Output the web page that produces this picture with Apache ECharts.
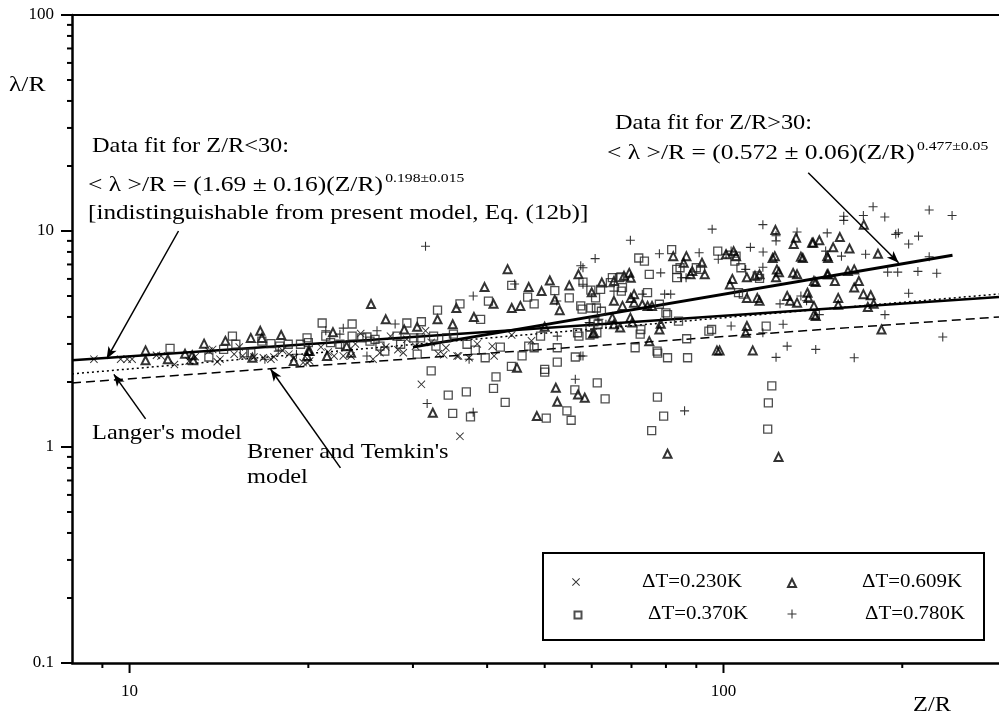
<!DOCTYPE html>
<html><head><meta charset="utf-8">
<script src="https://cdn.jsdelivr.net/npm/echarts@6/dist/echarts.min.js"></script>
<style>html,body{margin:0;padding:0;background:#fff}#c{width:999px;height:715px}</style>
</head><body><div id="c"></div>
<script>
// ---------- data (Z/R, lambda/R) ----------
const xMin = 8, xMax = 291, yMin = 0.1, yMax = 100;
const xMajorTicks = [10, 100];
const xMinorTicks = [9, 20, 30, 40, 50, 60, 70, 80, 90, 200];
const yMajorTicks = [0.1, 1, 10, 100];
const yMinorTicks = [0.2,0.3,0.4,0.5,0.6,0.7,0.8,0.9,2,3,4,5,6,7,8,9,20,30,40,50,60,70,80,90];

const crossData = [
 [8.71,2.55],[9.66,2.55],[9.91,2.55],[10.1,2.55],[11.1,2.66],[11.3,2.64],[11.9,2.41],[12.6,2.5],[13.6,2.78],[13.8,2.83],
 [14.05,2.48],[14.2,2.55],[15.0,2.69],[15.5,2.64],[16.2,2.61],[16.8,2.59],[17.3,2.55],[17.5,2.61],[18.55,2.69],[18.9,2.59],
 [19.9,2.46],[19.6,2.46],[20.1,2.5],[21,2.9],[22.1,2.64],[22.9,2.64],[23.6,2.64],[24,3.0],[24.5,3.35],[26.4,2.73],[25.7,2.55],
 [27,2.9],[27.5,3.26],[29.3,3.15],[30.3,2.93],[28.9,2.73],[31.5,3.45],[33.1,2.7],[34.1,2.88],[35.6,2.64],[37.3,2.59],
 [38.5,3.0],[40.8,2.93],[41.1,2.64],[35.8,2.64],[33.8,2.67],[44,3.3],[47.5,3.1],[31.0,1.95],[36.0,1.12],
 [12.9,2.62],[15.3,2.9],[18.1,2.8],[21.6,2.75],[28.3,2.82],[32.2,3.05]
];
const triangleData = [
 [10.64,2.80],[10.64,2.52],[11.6,2.55],[12.4,2.7],[12.75,2.66],[12.8,2.52],[13.35,3.01],[14.5,3.1],[16.0,3.2],[16.6,3.45],
 [16.7,3.2],[16.1,2.59],[18,3.3],[18.9,2.5],[20.0,2.78],[19.9,2.64],[20.1,2.78],[21.5,2.64],[22,3.4],[23.2,2.93],[23.6,2.73],
 [25.5,4.59],[27,3.9],[29,3.5],[30.5,3.6],[33,3.9],[35.5,4.4],[35,3.7],[38,4.0],[39.6,5.5],[43.3,6.66],[41,4.6],[44,4.4],
 [45.5,4.5],[49.4,5.27],[47,5.5],[51,5.9],[52,4.8],[53,4.3],[55,5.6],[57,6.3],[60,5.2],[50,3.6],
 [32.4,1.44],[44.9,2.33],[52.2,1.88],[56.9,1.75],[58.4,1.69],[52.5,1.62],[48.5,1.39],[80.5,0.93],[123.8,0.90],
 [75,3.09],[78,3.5],[78.4,3.72],[70.7,4.66],[69.8,4.9],[73,4.58],[74.5,4.5],[75.8,4.5],[65.4,4.75],[67.6,4.5],[70.7,5.1],
 [69.4,6.4],[68,6.2],[69.8,6.08],[62.4,5.77],[65.4,5.87],[70.2,3.77],[65,3.97],[65.4,3.7],[67,3.57],[69.7,3.97],[60.5,3.38],
 [60.3,3.35],[88.6,6.52],[88,6.3],[92,7.13],[93,6.3],[82.3,7.65],[85.7,7.13],[86.6,7.65],[97.5,2.8],[98.5,2.8],[112,2.8],
 [109.5,3.63],[109,3.38],[103.5,6.0],[102.5,5.66],[109.5,4.9],[114,4.9],[115,4.75],[113,6.2],[115,6.3],[109.5,6.1],[123,6.64],
 [101,7.8],[104,8.07],[105,7.65],[121,7.5],[122,7.65],[122.3,10.1],[132.5,9.3],[131.3,8.7],[141,8.83],[136,7.5],[135,7.6],
 [149.5,7.65],[124,6.45],[122.6,6.1],[131,6.4],[133,6.3],[128,5.0],[129.5,4.75],[133,4.66],[138.5,5.18],[139,4.9],[142,4.5],
 [142,4.1],[143,4.04],[142,5.87],[143,5.8],[149.5,6.3],[154,5.87],[150,6.3],[156,4.9],[156,4.55],[157,9.37],[153,8.4],
 [163,8.3],[145,9.06],[141.6,8.83],[150,7.5],[166,6.64],[162,6.52],[169,5.87],[166,5.47],[172,5.1],[177,5.04],[179,4.6],
 [175,4.45],[184.5,3.5],[182,7.85],[172.3,10.7]
];
const squareData = [
 [11.7,2.86],[13.6,2.61],[14.4,2.83],[14.9,3.26],[15.1,2.99],[16.7,3.09],[17.3,3.01],[17.9,2.93],[18.5,2.99],[19.4,2.99],
 [16.0,2.73],[15.6,2.73],[19.9,3.2],[20.0,3.04],[21.4,3.26],[21.8,3.04],[22.6,2.99],[23.1,2.93],[23.7,3.26],[24.6,3.2],
 [25.1,3.23],[25.4,3.09],[25.9,3.15],[26.4,2.93],[26.9,2.78],[28.2,3.26],[28.6,2.99],[30.1,3.2],[30.5,2.69],[30.9,3.2],
 [32.5,3.26],[32.8,2.93],[34.2,3.2],[35.1,3.33],[37,2.99],[38.2,2.81],[39.7,2.59],[42.1,2.9],[45.8,2.64],[47,2.93],[48,2.88],
 [49.2,3.26],[52.5,2.88],[56.8,3.38],[57.1,3.26],[59.6,3.3],[61.2,3.38],
 [21.1,3.75],[23.7,3.71],[29.3,3.75],[31,3.8],[33,4.3],[36,4.6],[39,3.9],[40.2,4.74],[46.8,4.94],[48,4.6],[52,5.3],[55,4.9],[58,5.8],[44,5.6],
 [32.2,2.25],[34.4,1.74],[36.9,1.80],[35.0,1.43],[37.5,1.38],[41.4,2.11],[41.0,1.87],[42.9,1.61],[43.95,2.36],[50.0,2.29],
 [50.0,2.22],[52.5,2.47],[56.3,2.61],[56.2,1.84],[54.5,1.47],[50.3,1.36],[55.4,1.33],[61.3,1.98],
 [75.7,1.19],[79.3,1.39],[63.2,1.67],[77.4,1.70],[119,1.6],[118.7,1.21],[120.6,1.92],
 [59.8,5.32],[62.1,5.37],[60.9,4.9],[59.8,4.4],[61.1,4.4],[62.3,4.25],[65,6.08],[67.2,6.13],[64.5,5.77],[66.8,6.08],
 [67.6,5.47],[67.3,5.27],[57.5,4.5],[57.8,4.35],[59.6,3.6],[60.5,3.8],[61.5,3.7],[72.6,3.5],[72.4,3.33],[80.5,4.1],[80,4.18],
 [84,3.83],[86.7,3.17],[77.5,2.72],[80.5,2.59],[87,2.59],[77.3,2.78],[71,2.88],[78,4.58],[74.5,5.18],[75,6.3],[83.4,6.64],
 [83.4,6.08],[84.5,6.76],[90,6.76],[91.5,6.64],[81.8,8.2],[72,7.5],[73.6,7.25],[97.8,8.07],[107,6.76],[104.5,7.25],[105,7.65],
 [106,5.18],[108,5.1],[114,6.2],[115,6.04],[118,3.63],[94.5,3.44],[95.5,3.5]
];
const plusData = [
 [16.9,2.55],[17.8,2.78],[19.1,2.69],[21.4,3.45],[22.6,3.33],[22.9,3.55],[25.1,2.64],[26.1,3.45],[28.0,3.71],[31.5,8.5],
 [37.3,2.55],[37.9,5.0],[44.5,5.68],[52.4,4.74],[52.5,3.26],[57.5,2.64],
 [31.7,1.59],[37.9,1.45],[56.3,2.06],[58,2.64],[86,1.47],
 [178.6,12.96],[159.4,11.7],[159.4,11.2],[172,11.8],[186.9,11.6],[222,12.5],[242.6,11.8],[195,9.65],[197,9.8],[213,9.47],
 [205,8.7],[222,7.6],[189,6.45],[196.5,6.45],[212.5,6.5],[228.6,6.37],[205,5.15],[187,4.1],[234,3.23],[173.5,7.8],[149.5,9.8],
 [148.6,8.07],[133,9.9],[122.6,9.0],[122.6,9.5],[116.5,10.7],[158,7.65],[145,4.1],[124.5,4.6],[116.5,6.8],[109,6.64],
 [103,8.07],[98,7.4],[101,7.8],[111,8.4],[116.6,8.0],[95.7,10.2],[91,7.93],[103,3.63],[116.5,3.38],[126,3.7],[128,2.93],
 [143,2.83],[122.6,2.6],[166,2.59],[79.6,5.1],[81.5,5.1],[73,5.1],[65.4,5.27],[78.4,6.4],[86.5,6.08],[85,6.08],[78,7.85],
 [69.7,9.06],[60.8,7.45],[58,6.76],[57.5,6.9],[58,5.67],[59.4,3.77],[61.7,3.9],[63.4,3.7],[135,5.0],[138,4.75]
];
// model / fit lines (end points)
const fitLowData  = [[8, 2.52], [291, 4.95]];
const fitHighData = [[30, 2.9], [243, 7.72]];
const langerData  = [[8, 2.18], [291, 5.11]];
const brenerData  = [[8, 1.98], [291, 4.0]];
// annotation arrows [from, to]
const arrowFit1   = [[12.09, 10.0], [9.15, 2.56]];
const arrowLanger = [[10.64, 1.35], [9.41, 2.17]];
const arrowBrener = [[22.65, 0.80], [17.28, 2.29]];
const arrowFit2   = [[138.9, 18.6], [197.2, 7.13]];
const seriesNames = ['ΔT=0.230K', 'ΔT=0.609K', 'ΔT=0.370K', 'ΔT=0.780K'];

// ---------- chart ----------
const FONT = 'Liberation Serif';
const PLUS = 'path://M4.4,0H5.6V4.4H10V5.6H5.6V10H4.4V5.6H0V4.4H4.4Z';
const CROSS = 'path://M0,0.85L0.85,0L10,9.15L9.15,10Z M10,0.85L0.85,10L0,9.15L9.15,0Z';
const chart = echarts.init(document.getElementById('c'), null, {renderer: 'canvas'});

function isPow10(v) { const l = Math.log10(v); return Math.abs(l - Math.round(l)) < 1e-6; }
function tickSeries(values, axis, len, width) {
  return {
    type: 'custom', silent: true, clip: false, z: 6, animation: false,
    data: values.map(v => axis === 'x' ? [v, yMin] : [xMin, v]),
    renderItem: (params, api) => {
      const p = api.coord([api.value(0), api.value(1)]);
      const shape = axis === 'x'
        ? {x1: p[0], y1: p[1], x2: p[0], y2: p[1] + len}
        : {x1: p[0], y1: p[1], x2: p[0] - len, y2: p[1]};
      return {type: 'line', shape: shape, style: {stroke: '#000', lineWidth: width}};
    }
  };
}
function arrow(pair) {
  return [{coord: pair[0], symbol: 'none'}, {coord: pair[1], symbol: 'arrow', symbolSize: [7, 12]}];
}
function txt(x, y, text, size, sx) {
  return {
    type: 'text', x: x, y: y, scaleX: sx || 1.16, silent: true, z: 10,
    style: {text: text, font: size + 'px "' + FONT + '"', fill: '#000', textVerticalAlign: 'middle', textAlign: 'left'}
  };
}
function eqText(x, y, main, sup) {
  return {
    type: 'text', x: x, y: y, scaleX: 1.16, silent: true, z: 10,
    style: {
      text: '{m|' + main + '}{s|' + sup + '}', textVerticalAlign: 'middle', textAlign: 'left',
      rich: {
        m: {fontFamily: FONT, fontSize: 22, lineHeight: 28, verticalAlign: 'middle', fill: '#000', color: '#000'},
        s: {fontFamily: FONT, fontSize: 13.5, lineHeight: 28, verticalAlign: 'top', fill: '#000', color: '#000', padding: [0, 0, 0, 2]}
      }
    }
  };
}
function legendAt(name, icon, cx, cy, sz) {
  return {
    data: [{name: name, icon: icon}], left: cx - sz / 2, top: cy - sz / 2, padding: 0, itemWidth: sz, itemHeight: sz,
    selectedMode: false, formatter: () => '', textStyle: {fontSize: 1}
  };
}
const lineBase = {type: 'line', showSymbol: false, symbol: 'none', silent: true, animation: false, z: 3};

const option = {
  backgroundColor: '#fff',
  animation: false,
  grid: {left: 72, right: 0, top: 15, bottom: 52, outerBoundsMode: 'none', containLabel: false},
  xAxis: [{
    type: 'log', min: xMin, max: xMax, logBase: 10,
    axisLine: {show: true, onZero: false, lineStyle: {color: '#000', width: 2.5}},
    axisTick: {show: false}, splitLine: {show: false}, minorTick: {show: false},
    axisLabel: {margin: 20, fontFamily: FONT, fontSize: 17, color: '#000', showMinLabel: true, showMaxLabel: true,
      formatter: v => isPow10(v) ? String(+(+v).toPrecision(3)) : ''}
  }, {
    type: 'log', min: xMin, max: xMax, position: 'top',
    axisLine: {show: true, onZero: false, lineStyle: {color: '#000', width: 2}},
    axisTick: {show: false}, axisLabel: {show: false}, splitLine: {show: false}
  }],
  yAxis: {
    type: 'log', min: yMin, max: yMax, logBase: 10,
    axisLine: {show: true, onZero: false, lineStyle: {color: '#000', width: 2.5}},
    axisTick: {show: false}, splitLine: {show: false},
    axisLabel: {margin: 18, fontFamily: FONT, fontSize: 17, color: '#000',
      formatter: v => isPow10(v) ? String(+(+v).toPrecision(3)) : ''}
  },
  legend: [
    legendAt(seriesNames[0], CROSS, 576, 582, 8), legendAt(seriesNames[1], 'triangle', 791, 582, 8),
    legendAt(seriesNames[2], 'rect', 577, 614, 7), legendAt(seriesNames[3], PLUS, 792, 614, 9)
  ],
  series: [
    Object.assign({}, lineBase, {name: 'fitLow', data: fitLowData, lineStyle: {color: '#000', width: 2.5},
      markLine: {silent: true, animation: false, label: {show: false}, symbol: ['none', 'arrow'],
        lineStyle: {color: '#000', width: 1.5, type: 'solid'},
        data: [arrow(arrowFit1), arrow(arrowLanger), arrow(arrowBrener), arrow(arrowFit2)]}}),
    Object.assign({}, lineBase, {name: 'fitHigh', data: fitHighData, lineStyle: {color: '#000', width: 3}}),
    Object.assign({}, lineBase, {name: 'langer', data: langerData, lineStyle: {color: '#000', width: 1.5, type: [2, 3]}}),
    Object.assign({}, lineBase, {name: 'brener', data: brenerData, lineStyle: {color: '#000', width: 1.5, type: [9, 5]}}),
    {type: 'scatter', name: seriesNames[0], data: crossData, symbol: CROSS, symbolSize: 8,
      itemStyle: {color: '#000'}, silent: true, z: 4},
    {type: 'scatter', name: seriesNames[1], data: triangleData, symbol: 'triangle', symbolSize: 8,
      itemStyle: {color: 'rgba(255,255,255,0)', borderColor: '#000', borderWidth: 2}, silent: true, z: 4},
    {type: 'scatter', name: seriesNames[2], data: squareData, symbol: 'rect', symbolSize: 8,
      itemStyle: {color: 'rgba(255,255,255,0)', borderColor: '#222', borderWidth: 1.3}, silent: true, z: 4},
    {type: 'scatter', name: seriesNames[3], data: plusData, symbol: PLUS, symbolSize: 9,
      itemStyle: {color: '#000'}, silent: true, z: 4},
    tickSeries(xMajorTicks, 'x', 10, 2), tickSeries(xMinorTicks, 'x', 5, 2),
    tickSeries(yMajorTicks, 'y', 11, 2), tickSeries(yMinorTicks, 'y', 5, 2)
  ],
  graphic: [
    txt(9, 85, 'λ/R', 22),
    txt(913, 705, 'Z/R', 21),
    txt(92, 146, 'Data fit for Z/R<30:', 21),
    eqText(88, 185, '< λ >/R = (1.69 ± 0.16)(Z/R)', '0.198±0.015'),
    txt(88, 213, '[indistinguishable from present model, Eq. (12b)]', 21, 1.2),
    txt(615, 123, 'Data fit for Z/R>30:', 21),
    eqText(607, 153, '< λ >/R = (0.572 ± 0.06)(Z/R)', '0.477±0.05'),
    txt(92, 433, "Langer's model", 21),
    txt(247, 452, "Brener and Temkin's", 21),
    txt(247, 477, 'model', 21),
    {type: 'rect', shape: {x: 543, y: 553, width: 441, height: 87}, style: {fill: 'none', stroke: '#000', lineWidth: 2}, silent: true},
    txt(642, 582, 'ΔT=0.230K', 18),
    txt(862, 582, 'ΔT=0.609K', 18),
    txt(648, 614, 'ΔT=0.370K', 18),
    txt(865, 614, 'ΔT=0.780K', 18)
  ]
};
chart.setOption(option);
</script></body></html>
